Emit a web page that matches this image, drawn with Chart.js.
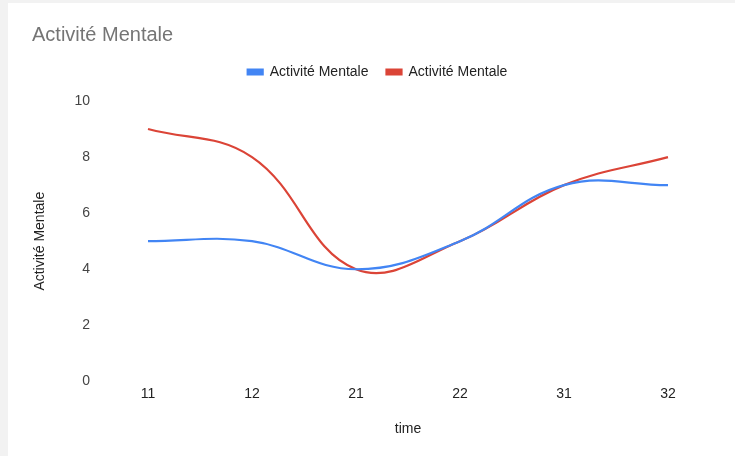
<!DOCTYPE html>
<html lang="fr">
<head>
<meta charset="UTF-8">
<title>Activité Mentale</title>
<script src="https://cdn.jsdelivr.net/npm/chart.js"></script>
<style>
  * { box-sizing: border-box; margin: 0; padding: 0; }
  body { background: #f2f2f2; width: 735px; height: 456px; overflow: hidden; }
  .carte { position: absolute; left: 8px; top: 3px; width: 727px; height: 453px; background: white; }
</style>
</head>
<body>
<div class="carte">
  <canvas id="grafica" width="727" height="453"></canvas>
</div>
<script>
const temps = ['11', '12', '21', '22', '31', '32'];
const serieBleue = [5, 5, 4, 5, 7, 7];
const serieRouge = [9, 8, 4, 5, 7, 8];
const ticksY = [0, 2, 4, 6, 8, 10];

const police = "Arial, 'Liberation Sans', sans-serif";
Chart.defaults.font.family = police;

// un peu d'espace sous la légende
const margeLegende = {
  id: 'margeLegende',
  beforeInit(chart) {
    const fit = chart.legend.fit;
    chart.legend.fit = function () {
      fit.bind(chart.legend)();
      this.height += 12;
    };
  }
};

const ctx = document.getElementById('grafica').getContext('2d');
new Chart(ctx, {
  type: 'line',
  data: {
    labels: temps,
    datasets: [{
      label: 'Activité Mentale',
      data: serieBleue,
      borderColor: '#4285f4',
      backgroundColor: '#4285f4',
      borderWidth: 2.2,
      pointRadius: 0,
      tension: 0.4
    }, {
      label: 'Activité Mentale',
      data: serieRouge,
      borderColor: '#db4437',
      backgroundColor: '#db4437',
      borderWidth: 2.2,
      pointRadius: 0,
      tension: 0.4
    }]
  },
  options: {
    responsive: false,
    animation: false,
    layout: { padding: { left: 24, right: 12, top: 12, bottom: 14 } },
    scales: {
      x: {
        offset: false,
        grid: { display: false },
        border: { display: false },
        ticks: { color: '#222', font: { size: 14 }, padding: -4 },
        title: { display: true, text: 'time', color: '#222', font: { size: 14 }, padding: { top: 23 } }
      },
      y: {
        min: 0, max: 10,
        afterBuildTicks: axis => { axis.ticks = ticksY.map(v => ({ value: v })); },
        afterFit: axis => { axis.width = 116; },
        grid: { display: false },
        border: { display: false },
        ticks: { color: '#444', font: { size: 14 }, padding: 50 },
        title: { display: true, text: 'Activité Mentale', color: '#222', font: { size: 14 }, padding: 0 }
      },
      droite: {
        position: 'right',
        afterFit: axis => { axis.width = 55; },
        grid: { display: false },
        border: { display: false },
        ticks: { display: false }
      }
    },
    plugins: {
      title: {
        display: true,
        text: 'Activité Mentale',
        align: 'start',
        color: '#757575',
        font: { size: 20, weight: 'normal' },
        padding: { top: 8, bottom: 0 }
      },
      legend: {
        labels: {
          color: '#222',
          font: { size: 14 },
          boxWidth: 15,
          boxHeight: 5,
          padding: 18
        }
      },
      tooltip: { enabled: false }
    }
  },
  plugins: [margeLegende]
});
</script>
</body>
</html>
